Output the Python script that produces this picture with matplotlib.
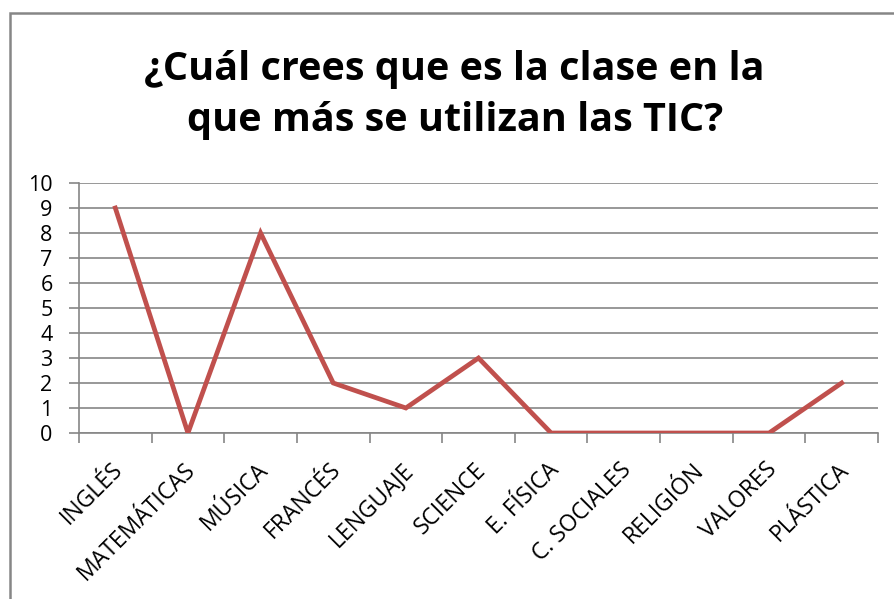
import matplotlib.pyplot as plt
from matplotlib.patches import Rectangle

plt.rcParams['font.family'] = ['Open Sans', 'DejaVu Sans']

materias = ['INGLÉS', 'MATEMÁTICAS', 'MÚSICA', 'FRANCÉS', 'LENGUAJE', 'SCIENCE',
            'E. FÍSICA', 'C. SOCIALES', 'RELIGIÓN', 'VALORES', 'PLÁSTICA']
votos = [9, 0, 8, 2, 1, 3, 0, 0, 0, 0, 2]
yticks = list(range(0, 11))

grid_col = '#868686'

fig = plt.figure(figsize=(8.95, 5.99), dpi=100)
ax = fig.add_axes([79/895, 1 - 433/599, (878 - 79)/895, (433 - 183)/599])

x = list(range(len(materias)))
ax.plot(x, votos, color='#C0504D', lw=3.4, solid_joinstyle='miter', zorder=3)

ax.set_xlim(-0.5, len(materias) - 0.5)
ax.set_ylim(0, 10)
ax.set_yticks(yticks)
ax.set_yticklabels([str(v) for v in yticks], fontsize=15.5)
ax.yaxis.grid(True, color=grid_col, lw=1.2)
ax.set_axisbelow(True)

# category ticks sit between the labels, like Excel
ax.set_xticks([i - 0.5 for i in range(len(materias) + 1)])
ax.set_xticklabels([])
ax.tick_params(axis='x', length=7, width=1.2, color=grid_col)
ax.tick_params(axis='y', length=7, width=1.2, color=grid_col, pad=12)
for i, m in enumerate(materias):
    ax.text(i - 0.06, -1.0, m, rotation=45, ha='right', va='top',
            rotation_mode='anchor', fontsize=16.5)

for s in ['top', 'right']:
    ax.spines[s].set_visible(False)
for s in ['left', 'bottom']:
    ax.spines[s].set_color(grid_col)
    ax.spines[s].set_linewidth(1.2)

fig.text(0.508, 1 - 95/599, '¿Cuál crees que es la clase en la\nque más se utilizan las TIC?',
         ha='center', va='center', fontsize=28.5, fontweight='bold', linespacing=1.38)

# outer chart border (runs off the right/bottom of the picture)
fig.patches.append(Rectangle((10/895, -0.1), 1.2, 1 - 13/599 + 0.1, transform=fig.transFigure,
                             fill=False, edgecolor=grid_col, lw=1.8))

fig.savefig('out.png', dpi=100)
